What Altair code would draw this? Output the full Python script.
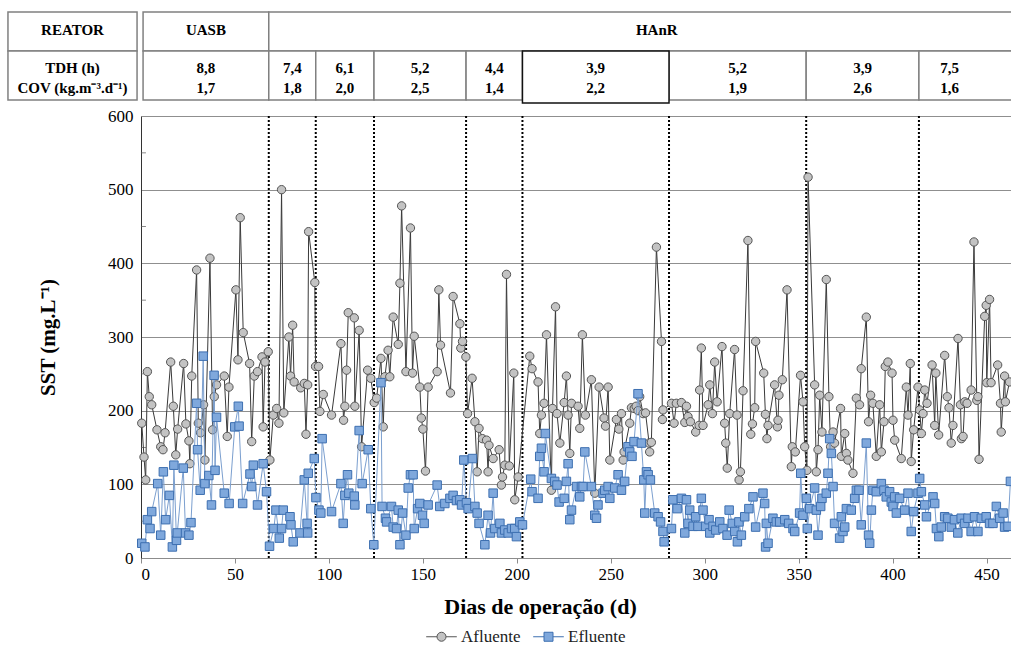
import altair as alt
import pandas as pd

# ---------------- data ----------------
afl_dia = [0.4, 1.6, 2.5, 3.4, 4.4, 5.7, 8.5, 10.5, 11.7, 12.8, 15.8, 17.2, 18.5, 19.5, 22.7, 23.9,
           25.5, 26.0, 27.0, 29.6, 30.5, 31.7, 33.3, 34.0, 36.7, 38.1, 39.0, 40.2, 44.3, 45.9, 46.8,
           50.5, 51.6, 52.8, 54.4, 57.8, 58.9, 60.3, 62.0, 64.4, 65.0, 66.0, 67.7, 68.6, 70.4, 72.2,
           73.4, 74.8, 76.0, 78.7, 79.6, 80.7, 81.5, 85.0, 86.9, 87.8, 88.7, 89.2, 92.5, 92.9, 94.5,
           95.2, 97.0, 101.4, 106.4, 107.8, 108.5, 109.4, 110.3, 113.5, 113.8, 116.1, 117.4, 120.6,
           122.3, 124.1, 125.4, 127.7, 128.9, 129.8, 131.5, 132.4, 134.2, 136.9, 137.8, 138.7, 141.0,
           143.4, 144.5, 145.4, 148.4, 149.2, 150.0, 151.4, 152.8, 157.6, 158.5, 159.4, 164.7, 166.1,
           169.7, 170.2, 171.1, 172.9, 173.8, 176.2, 177.7, 178.9, 179.9, 181.7, 183.9, 184.7, 185.2,
           187.4, 190.6, 191.8, 192.4, 193.6, 194.5, 196.0, 198.4, 198.9, 200.7, 206.9, 208.1, 211.3,
           212.2, 213.1, 214.5, 215.8, 218.4, 219.0, 220.6, 221.4, 222.9, 225.2, 226.4, 227.3, 228.2,
           229.1, 232.6, 233.5, 234.9, 236.5, 239.7, 241.5, 243.8, 246.4, 247.2, 248.6, 249.5, 253.0,
           254.3, 255.7, 256.6, 257.1, 260.1, 261.0, 262.5, 263.5, 264.5, 265.4, 267.2, 268.5, 270.4,
           270.7, 271.6, 274.3, 277.0, 277.5, 277.8, 282.3, 283.7, 284.9, 287.6, 289.4, 290.3, 291.1,
           292.4, 295.2, 297.0, 297.3, 298.2, 299.1, 301.8, 302.7, 304.1, 305.3, 306.6, 309.2, 310.6,
           311.2, 312.0, 313.3, 315.9, 317.2, 318.3, 319.0, 320.4, 323.0, 324.5, 325.4, 326.6, 327.1,
           331.4, 332.3, 333.1, 333.7, 337.2, 338.7, 339.0, 339.5, 341.3, 343.8, 346.1, 346.6, 348.2,
           351.0, 352.3, 353.2, 354.4, 355.0, 358.5, 359.4, 360.3, 361.2, 362.4, 364.7, 366.1, 367.0,
           368.3, 369.1, 372.3, 372.7, 374.5, 375.4, 376.2, 378.9, 380.7, 382.4, 383.3, 386.0, 387.2,
           388.3, 389.5, 391.3, 393.1, 394.0, 395.4, 396.1, 397.5, 399.7, 400.2, 401.1, 404.6, 407.3,
           408.2, 409.4, 409.9, 411.2, 413.5, 414.4, 415.3, 416.2, 417.1, 418.3, 421.0, 422.4, 423.0,
           424.5, 427.7, 429.1, 430.0, 431.2, 432.1, 434.8, 436.1, 436.6, 437.5, 438.4, 439.6, 441.8,
           443.3, 444.8, 445.4, 446.0, 449.0, 449.8, 450.1, 451.6, 452.4, 455.9, 457.4, 457.8, 459.6,
           460.0, 462.2]
afl_sst = [183, 137, 106, 253, 219, 208, 174, 151, 147, 170, 266, 206, 140, 175, 264, 182,
           159, 128, 247, 391, 183, 170, 208, 133, 407, 174, 219, 235, 247, 165, 232,
           364, 269, 462, 306, 264, 158, 247, 253, 273, 178, 266, 280, 133, 194, 203,
           183, 500, 197, 300, 247, 316, 239, 231, 237, 168, 235, 443, 374, 260, 260,
           199, 222, 194, 291, 187, 206, 255, 333, 326, 206, 309, 151, 255,
           244, 211, 217, 271, 178, 246, 282, 246, 327, 290, 373, 478, 253,
           448, 251, 301, 232, 190, 175, 118, 232, 253, 364, 289, 224, 355,
           318, 285, 294, 273, 196, 244, 185, 117, 176, 162, 160, 117, 153,
           135, 147, 99, 110, 126, 385, 125, 251, 79, 110, 274, 257, 239,
           169, 194, 210, 303, 92, 203, 341, 196, 156, 211, 247, 194, 142,
           210, 206, 176, 303, 194, 242, 88, 232, 190, 179, 232, 133, 188,
           175, 196, 133, 144, 183, 204, 203, 206, 200, 219, 196, 197, 156,
           144, 157, 422, 294, 188, 201, 210, 183, 210, 211, 184, 206, 192,
           185, 171, 180, 228, 285, 180, 208, 235, 196, 266, 212, 287, 183,
           156, 122, 196, 283, 194, 106, 117, 227, 431, 168, 182, 204, 294,
           251, 195, 162, 180, 235, 178, 187, 221, 242, 364, 124, 151, 144,
           248, 212, 151, 119, 517, 235, 117, 147, 221, 171, 378, 219, 151,
           171, 156, 203, 138, 169, 142, 133, 115, 217, 208, 257, 327, 185,
           221, 210, 138, 208, 144, 185, 260, 266, 251, 187, 160, 135, 232,
           194, 264, 131, 174, 232, 201, 169, 196, 228, 210, 262, 180, 251,
           167, 275, 219, 204, 156, 180, 298, 208, 162, 165, 212, 210, 228,
           429, 214, 219, 134, 328, 343, 238, 351, 238, 262, 210, 171, 247,
           212, 239]

efl_dia = [0.4, 2.1, 3.4, 4.8, 5.7, 8.9, 10.5, 11.9, 13.1, 15.1, 16.7, 17.5, 18.9, 19.3, 22.5, 23.7,
           25.5, 26.6, 29.6, 30.1, 31.5, 33.1, 34.0, 36.1, 37.5, 38.9, 39.4, 40.2, 44.3, 46.9, 49.9,
           51.8, 52.2, 54.1, 58.0, 58.9, 59.8, 62.0, 65.0, 66.8, 68.4, 70.7, 71.8, 73.6, 74.8, 75.7,
           79.3, 79.8, 81.0, 84.6, 86.9, 88.4, 88.7, 89.0, 92.2, 93.1, 94.7, 95.7, 96.4, 101.4, 106.4,
           107.6, 108.5, 109.9, 110.6, 113.5, 113.8, 116.1, 117.7, 120.9, 122.3, 123.9, 127.7, 128.3,
           130.1, 130.7, 133.3, 134.2, 136.0, 136.9, 137.8, 139.2, 141.0, 142.2, 143.4, 144.8, 145.4,
           147.2, 148.4, 149.8, 150.7, 152.8, 157.6, 159.0, 161.7, 164.4, 166.1, 167.9, 169.7, 170.6,
           171.8, 173.2, 174.1, 176.4, 177.7, 178.9, 179.9, 183.0, 184.7, 186.0, 187.4, 188.3, 191.0,
           191.8, 193.6, 195.4, 197.2, 198.9, 199.8, 201.6, 203.0, 207.4, 208.1, 211.3, 212.2, 213.1,
           214.5, 215.2, 218.4, 220.2, 221.4, 222.5, 225.2, 226.4, 227.3, 228.2, 229.1, 231.8, 233.5,
           234.4, 235.3, 236.2, 239.7, 241.5, 242.4, 243.2, 245.9, 246.8, 248.6, 249.5, 252.1, 253.9,
           255.7, 257.4, 259.2, 260.1, 261.3, 262.4, 264.5, 266.3, 267.6, 268.1, 269.0, 269.9, 271.1,
           273.4, 275.2, 276.5, 277.8, 278.4, 282.3, 283.1, 285.3, 287.6, 289.4, 290.3, 291.1, 292.0,
           293.8, 295.2, 296.4, 298.2, 299.1, 300.5, 302.3, 302.7, 304.4, 305.9, 308.0, 309.7, 311.9,
           313.0, 314.7, 316.0, 317.4, 318.2, 319.5, 321.3, 323.5, 325.7, 327.1, 331.0, 331.9, 332.4,
           332.8, 333.7, 336.3, 338.1, 339.9, 342.6, 344.7, 347.0, 347.9, 350.5, 351.1, 352.3, 354.1,
           354.6, 355.9, 358.5, 359.4, 360.3, 361.7, 362.4, 364.7, 365.6, 366.5, 367.4, 368.3, 369.1,
           371.8, 372.7, 373.6, 374.5, 375.4, 378.0, 379.8, 380.7, 382.1, 383.3, 386.0, 387.2, 387.8,
           388.7, 389.5, 391.3, 394.0, 395.4, 396.6, 398.4, 399.3, 400.2, 401.1, 402.0, 403.7, 406.4,
           408.2, 409.9, 411.2, 413.5, 414.4, 415.3, 417.1, 418.0, 421.5, 422.4, 423.3, 424.6, 425.9,
           427.7, 429.4, 431.2, 432.9, 434.7, 436.5, 438.3, 440.1, 441.8, 443.6, 445.4, 447.2, 449.8,
           451.6, 453.4, 455.2, 457.0, 458.8, 459.6, 461.4, 462.7]
efl_sst = [20, 15, 52, 40, 63, 101, 31, 117, 52, 85, 15, 126, 24, 34, 122, 34,
           31, 48, 210, 147, 92, 274, 101, 112, 72, 248, 119, 191, 88, 74, 178,
           206, 179, 74, 114, 97, 126, 72, 128, 90, 16, 40, 65, 27, 40, 65,
           56, 45, 22, 34, 106, 47, 34, 115, 135, 82, 65, 61, 162, 63, 101,
           47, 85, 113, 88, 84, 72, 173, 101, 147, 67, 18, 238, 70,
           54, 49, 70, 42, 40, 65, 18, 61, 31, 95, 113, 113, 40,
           67, 74, 58, 47, 72, 99, 70, 74, 81, 85, 78, 79, 72,
           133, 75, 67, 135, 70, 61, 47, 18, 58, 34, 88, 40, 47,
           34, 38, 34, 40, 40, 29, 49, 45, 107, 90, 81, 138, 149,
           117, 169, 108, 104, 99, 76, 81, 104, 128, 52, 65, 97, 83,
           97, 97, 144, 97, 58, 54, 72, 88, 92, 97, 81, 95, 113,
           92, 104, 151, 144, 138, 158, 223, 156, 106, 61, 117, 113, 106,
           61, 56, 49, 36, 22, 40, 79, 67, 81, 34, 79, 47, 65,
           43, 56, 43, 81, 65, 43, 52, 34, 43, 38, 49, 40, 31,
           65, 47, 36, 22, 49, 31, 56, 67, 83, 42, 88, 74, 15,
           47, 20, 54, 49, 49, 52, 47, 40, 36, 61, 115, 58, 81,
           40, 67, 95, 65, 31, 70, 81, 88, 115, 162, 142, 97, 47,
           27, 56, 36, 42, 67, 65, 81, 92, 92, 45, 156, 31, 20,
           65, 92, 90, 101, 92, 83, 90, 76, 70, 83, 61, 81, 65,
           88, 36, 63, 88, 108, 90, 72, 56, 83, 74, 40, 29, 42,
           56, 54, 42, 52, 34, 54, 47, 54, 36, 56, 36, 54, 56,
           47, 47, 70, 54, 61, 42, 43, 104]

fases = [68, 93, 124, 173, 203, 281, 354, 414]          # phase limits (days)
reatores = ["REATOR", "UASB", "HAnR"]
tdh = ["8,8", "7,4", "6,1", "5,2", "4,4", "3,9", "5,2", "3,9", "7,5"]
cov = ["1,7", "1,8", "2,0", "2,5", "1,4", "2,2", "1,9", "2,6", "1,6"]
x_ticks = [0, 50, 100, 150, 200, 250, 300, 350, 400, 450]
y_ticks = [0, 100, 200, 300, 400, 500, 600]
y_minor = [50, 150, 250, 350, 450, 550]
series = ["Afluente", "Efluente"]

# ---------------- layout / style ----------------
FONT = "Liberation Serif"
X_MAX = 463
W, H = 870, 442
x_scale = alt.Scale(domain=[0, X_MAX], nice=False, zero=False)
y_scale = alt.Scale(domain=[0, 600], nice=False)
LEFT_A, LEFT_B, UASB_A, RIGHT_END = -70.8, -2.1, 1.1, 470
AFL_FILL, AFL_STROKE, AFL_LINE = "#c3c3c3", "#555555", "#3a3a3a"
EFL_FILL, EFL_STROKE, EFL_LINE = "#7fa8dc", "#3d6fb0", "#7b9fcf"

afl = pd.DataFrame({"dia": afl_dia, "sst": afl_sst, "serie": series[0]})
efl = pd.DataFrame({"dia": efl_dia, "sst": efl_sst, "serie": series[1]})
both = pd.concat([afl, efl], ignore_index=True)

x_axis = alt.Axis(values=x_ticks, grid=False, domainColor="#8c8c8c", tickColor="#8c8c8c",
                  tickSize=5, labelFont=FONT, labelFontSize=17, labelColor="black", labelPadding=3,
                  title="Dias de operação (d)", titleFont=FONT, titleFontSize=22,
                  titleFontWeight="bold", titleColor="black", titleX=399, titleY=48,
                  titleBaseline="middle", titleAnchor="middle", titleAlign="center")
y_axis = alt.Axis(values=y_ticks, grid=True, gridColor="#8f8f8f", gridWidth=1,
                  domainColor="#333333", tickSize=0, labelFont=FONT, labelFontSize=17,
                  labelColor="black", labelPadding=8, title="SST (mg.L⁻¹)", titleFont=FONT,
                  titleFontSize=21, titleFontWeight="bold", titleColor="black",
                  titleX=-93, titleY=221, titleBaseline="middle", titleAlign="center")

X = alt.X("dia:Q", scale=x_scale, axis=x_axis)
Y = alt.Y("sst:Q", scale=y_scale, axis=y_axis)

# legend symbols: a short line through the marker
SYM_CIRCLE = "M-1.7,0H-0.5M0.5,0H1.7M0.5,0A0.5,0.5,0,1,1,-0.5,0A0.5,0.5,0,1,1,0.5,0"
SYM_SQUARE = "M-1.7,0H-0.5M0.5,0H1.7M-0.5,-0.5H0.5V0.5H-0.5Z"
legend = alt.Legend(title=None, orient="none", legendX=291, legendY=511, direction="horizontal",
                    labelFont=FONT, labelFontSize=17, labelColor="#222222", symbolSize=324,
                    symbolStrokeWidth=1, columnPadding=10, labelOffset=10)
fill = alt.Fill("serie:N", scale=alt.Scale(domain=series, range=[AFL_FILL, EFL_FILL]), legend=legend)
stroke = alt.Stroke("serie:N", scale=alt.Scale(domain=series, range=[AFL_STROKE, EFL_STROKE]), legend=legend)
shape = alt.Shape("serie:N", scale=alt.Scale(domain=series, range=[SYM_CIRCLE, SYM_SQUARE]), legend=legend)

line_afl = alt.Chart(afl).mark_line(color=AFL_LINE, strokeWidth=1).encode(x=X, y=Y)
pts_afl = alt.Chart(afl).mark_point(filled=True, shape="circle", size=70, strokeWidth=1, opacity=1,
                                    fill=AFL_FILL, stroke=AFL_STROKE).encode(x=X, y=Y)
line_efl = alt.Chart(efl).mark_line(color=EFL_LINE, strokeWidth=1).encode(x=X, y=Y)
pts_efl = alt.Chart(efl).mark_point(filled=True, shape="square", size=72, strokeWidth=1, opacity=1,
                                    fill=EFL_FILL, stroke=EFL_STROKE).encode(x=X, y=Y)
# invisible layer that only carries the legend
legend_layer = alt.Chart(both).mark_point(filled=True, opacity=0).encode(
    x=X, y=Y, fill=fill, stroke=stroke, shape=shape)

rules = alt.Chart(pd.DataFrame({"dia": fases})).mark_rule(
    color="black", strokeWidth=2, strokeDash=[2, 2]).encode(x=alt.X("dia:Q", scale=x_scale))

minor = alt.Chart(pd.DataFrame({"v": y_minor})).mark_tick(
    orient="horizontal", size=5, thickness=1, color="#555555").encode(
    x=alt.datum(1.3, scale=x_scale), y=alt.Y("v:Q", scale=y_scale))

# ---------------- header table ----------------
R1_TOP, R1_BOT, R2_BOT = -104, -65, -16
bounds = [UASB_A] + fases + [RIGHT_END]
cells = [
    {"x0": LEFT_A, "x1": LEFT_B, "y0": R1_TOP, "y1": R1_BOT, "c": "#808080"},
    {"x0": UASB_A, "x1": fases[0], "y0": R1_TOP, "y1": R1_BOT, "c": "#808080"},
    {"x0": fases[0], "x1": RIGHT_END, "y0": R1_TOP, "y1": R1_BOT, "c": "#808080"},
    {"x0": LEFT_A, "x1": LEFT_B, "y0": R1_BOT, "y1": R2_BOT, "c": "#808080"},
]
for i in range(len(tdh)):
    black = i == 5
    cells.append({"x0": bounds[i], "x1": bounds[i + 1], "y0": R1_BOT,
                  "y1": R2_BOT + (3 if black else 0), "c": "#111111" if black else "#808080"})
cells_df = pd.DataFrame(cells)
cells_df = pd.concat([cells_df[cells_df.c != "#111111"], cells_df[cells_df.c == "#111111"]])

table_rects = alt.Chart(cells_df).mark_rect(fill="white", strokeWidth=1.5).encode(
    x=alt.X("x0:Q", scale=x_scale), x2="x1:Q",
    y=alt.Y("y0:Q", scale=None), y2="y1:Q",
    stroke=alt.Stroke("c:N", scale=None))

texts = [
    {"x": (LEFT_A + LEFT_B) / 2, "y": -86, "t": reatores[0]},
    {"x": (UASB_A + fases[0]) / 2, "y": -86, "t": reatores[1]},
    {"x": 274.5, "y": -86, "t": reatores[2]},
    {"x": (LEFT_A + LEFT_B) / 2, "y": -48, "t": "TDH (h)"},
    {"x": (LEFT_A + LEFT_B) / 2, "y": -28, "t": "COV (kg.m⁻³.d⁻¹)"},
]
for i in range(len(tdh)):
    cx = (bounds[i] + bounds[i + 1]) / 2 if i < len(tdh) - 1 else 430.3
    texts.append({"x": cx, "y": -48, "t": tdh[i]})
    texts.append({"x": cx, "y": -28, "t": cov[i]})
table_text = alt.Chart(pd.DataFrame(texts)).mark_text(
    font=FONT, fontSize=15, fontWeight="bold", color="black", baseline="middle", align="center"
).encode(x=alt.X("x:Q", scale=x_scale), y=alt.Y("y:Q", scale=None), text="t:N")

chart = alt.layer(
    table_rects, table_text, rules, minor, line_afl, pts_afl, line_efl, pts_efl, legend_layer
).properties(
    width=W, height=H,
    autosize=alt.AutoSizeParams(type="none"),
    padding={"left": 141, "top": 116, "right": 0, "bottom": 95},
    background="white",
).configure_view(stroke=None)

chart.save("out.html", embed_options={"renderer": "svg", "actions": False})
